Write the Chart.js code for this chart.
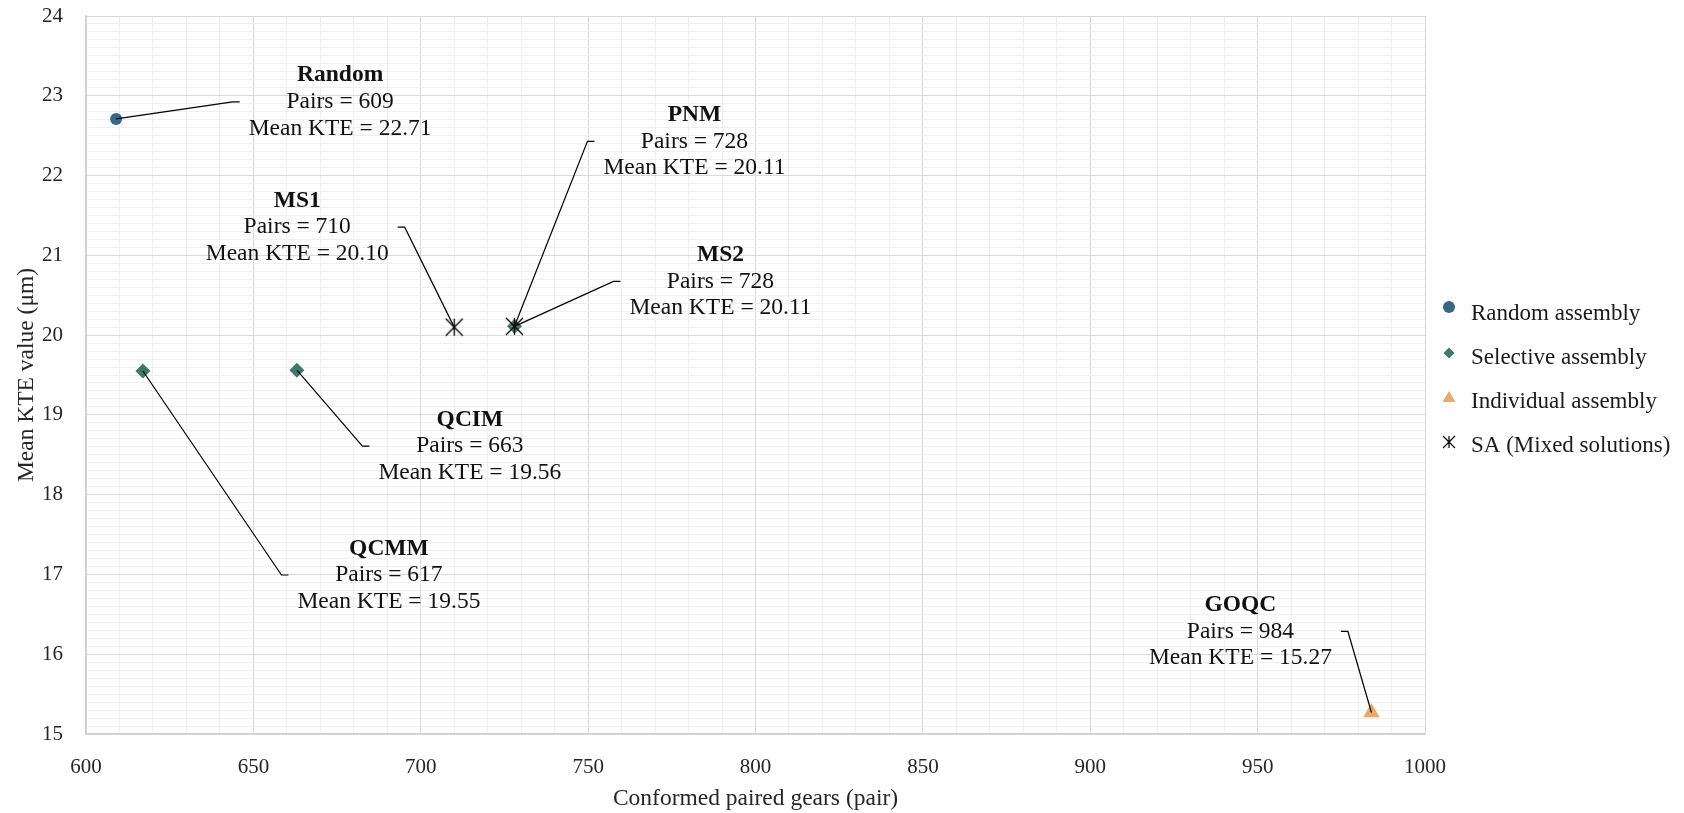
<!DOCTYPE html>
<html><head><meta charset="utf-8">
<script src="https://cdn.jsdelivr.net/npm/chart.js@4.4.1/dist/chart.umd.min.js"></script>
<style>html,body{margin:0;padding:0;background:#fff;}canvas{display:block;}</style>
</head><body>
<canvas id="c" width="1684" height="813"></canvas>
<script>
// ---------- data ----------
const seriesNames = ['Random assembly', 'Selective assembly', 'Individual assembly', 'SA (Mixed solutions)'];
const randomNames = ['Random'];
const randomPairs = [609];
const randomKTE = [22.71];
const selectiveNames = ['QCMM', 'QCIM', 'PNM'];
const selectivePairs = [617, 663, 728];
const selectiveKTE = [19.55, 19.56, 20.11];
const individualNames = ['GOQC'];
const individualPairs = [984];
const individualKTE = [15.27];
const saNames = ['MS1', 'MS2'];
const saPairs = [710, 728];
const saKTE = [20.10, 20.11];
const xTickValues = [600, 650, 700, 750, 800, 850, 900, 950, 1000];
const yTickValues = [15, 16, 17, 18, 19, 20, 21, 22, 23, 24];
const xAxisTitle = 'Conformed paired gears (pair)';
const yAxisTitle = 'Mean KTE value (μm)';

// ---------- layout / style ----------
const labelOffsets = { Random: [224, -17], MS1: [-157, -100], PNM: [180, -185], MS2: [206, -45], QCIM: [173, 76], QCMM: [246, 204], GOQC: [-131, -81] };
const FONT = '"Liberation Serif", "Times New Roman", serif';
const colors = ['#35698a', '#40796c', '#e9a968', '#000000'];

function makeStar(size, lw) {
  const c = document.createElement('canvas');
  c.width = size; c.height = size;
  const g = c.getContext('2d');
  g.strokeStyle = '#000'; g.lineWidth = lw; g.lineCap = 'butt';
  const p = 1, q = size - 1, m = size / 2;
  g.beginPath();
  g.moveTo(p, p); g.lineTo(q, q);
  g.moveTo(q, p); g.lineTo(p, q);
  g.moveTo(m, p); g.lineTo(m, q);
  g.stroke();
  return c;
}
const starBig = makeStar(19, 1.3);
const starSmall = makeStar(14, 1.2);

function pts(xs, ys) { return xs.map((x, i) => ({ x: x, y: ys[i] })); }

const isMajorX = v => xTickValues.includes(Math.round(v));
const isMajorY = v => Math.abs(v - Math.round(v)) < 1e-6 && yTickValues.includes(Math.round(v));

const annotate = {
  id: 'annotate',
  afterDatasetsDraw(chart) {
    const ctx = chart.ctx;
    chart.data.datasets.forEach((ds, di) => {
      const meta = chart.getDatasetMeta(di);
      ds.names.forEach((name, i) => {
        const el = meta.data[i];
        const px = el.x, py = el.y;
        const off = labelOffsets[name];
        const cx = px + off[0], cy = py + off[1];
        const lines = [name, 'Pairs = ' + ds.data[i].x, 'Mean KTE = ' + ds.data[i].y.toFixed(2)];
        ctx.save();
        ctx.font = 'bold 23.5px ' + FONT;
        let w = ctx.measureText(lines[0]).width;
        ctx.font = '23.5px ' + FONT;
        w = Math.max(w, ctx.measureText(lines[1]).width, ctx.measureText(lines[2]).width);
        const side = off[0] > 0 ? -1 : 1;
        const ax = cx + side * (w / 2 + 9);
        const ex = ax + side * 7;
        ctx.strokeStyle = '#000'; ctx.lineWidth = 1.2;
        ctx.beginPath(); ctx.moveTo(px, py); ctx.lineTo(ex, cy); ctx.lineTo(ax, cy); ctx.stroke();
        ctx.fillStyle = '#111'; ctx.textAlign = 'center'; ctx.textBaseline = 'middle';
        ctx.font = 'bold 23.5px ' + FONT;
        ctx.fillText(lines[0], cx, cy - 26.5);
        ctx.font = '23.5px ' + FONT;
        ctx.fillText(lines[1], cx, cy);
        ctx.fillText(lines[2], cx, cy + 26.5);
        ctx.restore();
      });
    });
  },
  afterDraw(chart) {
    const ctx = chart.ctx;
    const a = chart.chartArea;
    ctx.save();
    ctx.fillStyle = '#262626';
    ctx.font = '23.5px ' + FONT;
    ctx.textAlign = 'center'; ctx.textBaseline = 'alphabetic';
    ctx.fillText(xAxisTitle, (a.left + a.right) / 2, 805);
    ctx.translate(33, (a.top + a.bottom) / 2); ctx.rotate(-Math.PI / 2);
    ctx.fillText(yAxisTitle, 0, 0);
    ctx.restore();
    // legend
    ctx.save();
    const lx = 1449, tx = 1471, y0 = 314, dy = 44;
    chart.data.datasets.forEach((ds, i) => {
      const y = y0 + i * dy;
      const my = y - 5;
      ctx.fillStyle = colors[i];
      ctx.beginPath();
      if (ds.pointStyle === 'circle') { ctx.arc(lx, my - 2, 6, 0, Math.PI * 2); ctx.fill(); }
      else if (ds.pointStyle === 'rectRot') { ctx.moveTo(lx, my - 5.5); ctx.lineTo(lx + 5.5, my); ctx.lineTo(lx, my + 5.5); ctx.lineTo(lx - 5.5, my); ctx.closePath(); ctx.fill(); }
      else if (ds.pointStyle === 'triangle') { ctx.moveTo(lx, my - 6); ctx.lineTo(lx + 6.5, my + 5); ctx.lineTo(lx - 6.5, my + 5); ctx.closePath(); ctx.fill(); }
      else { ctx.drawImage(starSmall, lx - 7, y - 4 - 7); }
      ctx.fillStyle = '#1a1a1a';
      ctx.font = '23px ' + FONT;
      ctx.textAlign = 'left'; ctx.textBaseline = 'middle';
      ctx.fillText(ds.label, tx, y);
    });
    ctx.restore();
  }
};

new Chart(document.getElementById('c'), {
  type: 'scatter',
  data: {
    datasets: [
      { label: seriesNames[0], names: randomNames, data: pts(randomPairs, randomKTE), pointStyle: 'circle', pointRadius: 6, pointHoverRadius: 6, backgroundColor: colors[0], borderColor: colors[0], borderWidth: 0, order: 3 },
      { label: seriesNames[1], names: selectiveNames, data: pts(selectivePairs, selectiveKTE), pointStyle: 'rectRot', pointRadius: 7.5, pointHoverRadius: 7.5, backgroundColor: colors[1], borderColor: colors[1], borderWidth: 0, order: 2 },
      { label: seriesNames[2], names: individualNames, data: pts(individualPairs, individualKTE), pointStyle: 'triangle', pointRadius: 9.5, pointHoverRadius: 9.5, backgroundColor: colors[2], borderColor: colors[2], borderWidth: 0, order: 2 },
      { label: seriesNames[3], names: saNames, data: pts(saPairs, saKTE), pointStyle: starBig, pointRadius: 9, pointHoverRadius: 9, backgroundColor: colors[3], borderColor: colors[3], borderWidth: 0, order: 0 }
    ]
  },
  options: {
    responsive: false,
    devicePixelRatio: 1,
    animation: false,
    events: [],
    layout: { padding: { top: 16, right: 259, left: 0, bottom: 0 } },
    plugins: { legend: { display: false }, tooltip: { enabled: false } },
    scales: {
      x: {
        type: 'linear',
        min: xTickValues[0], max: xTickValues[xTickValues.length - 1],
        afterFit(s) { s.height = 79; },
        border: { color: '#d0d0d0', width: 1.5 },
        grid: { drawTicks: false, color: c => (c.tick && isMajorX(c.tick.value)) ? '#d9d9d9' : '#efefef', lineWidth: 1 },
        ticks: { stepSize: 10, autoSkip: false, maxRotation: 0, padding: 21, color: '#262626', font: { family: FONT, size: 21 },
          callback: v => isMajorX(v) ? String(Math.round(v)) : '' }
      },
      y: {
        type: 'linear',
        min: yTickValues[0], max: yTickValues[yTickValues.length - 1],
        afterFit(s) { s.width = 86; },
        border: { color: '#d0d0d0', width: 1.5 },
        grid: { drawTicks: true, tickLength: 23, tickColor: 'rgba(0,0,0,0)', color: c => (c.tick && isMajorY(c.tick.value)) ? '#d9d9d9' : '#efefef', lineWidth: 1 },
        ticks: { stepSize: 0.1, autoSkip: false, padding: 0, color: '#262626', font: { family: FONT, size: 21 },
          callback: v => isMajorY(v) ? String(Math.round(v)) : '' }
      }
    }
  },
  plugins: [annotate]
});
</script>
</body></html>
